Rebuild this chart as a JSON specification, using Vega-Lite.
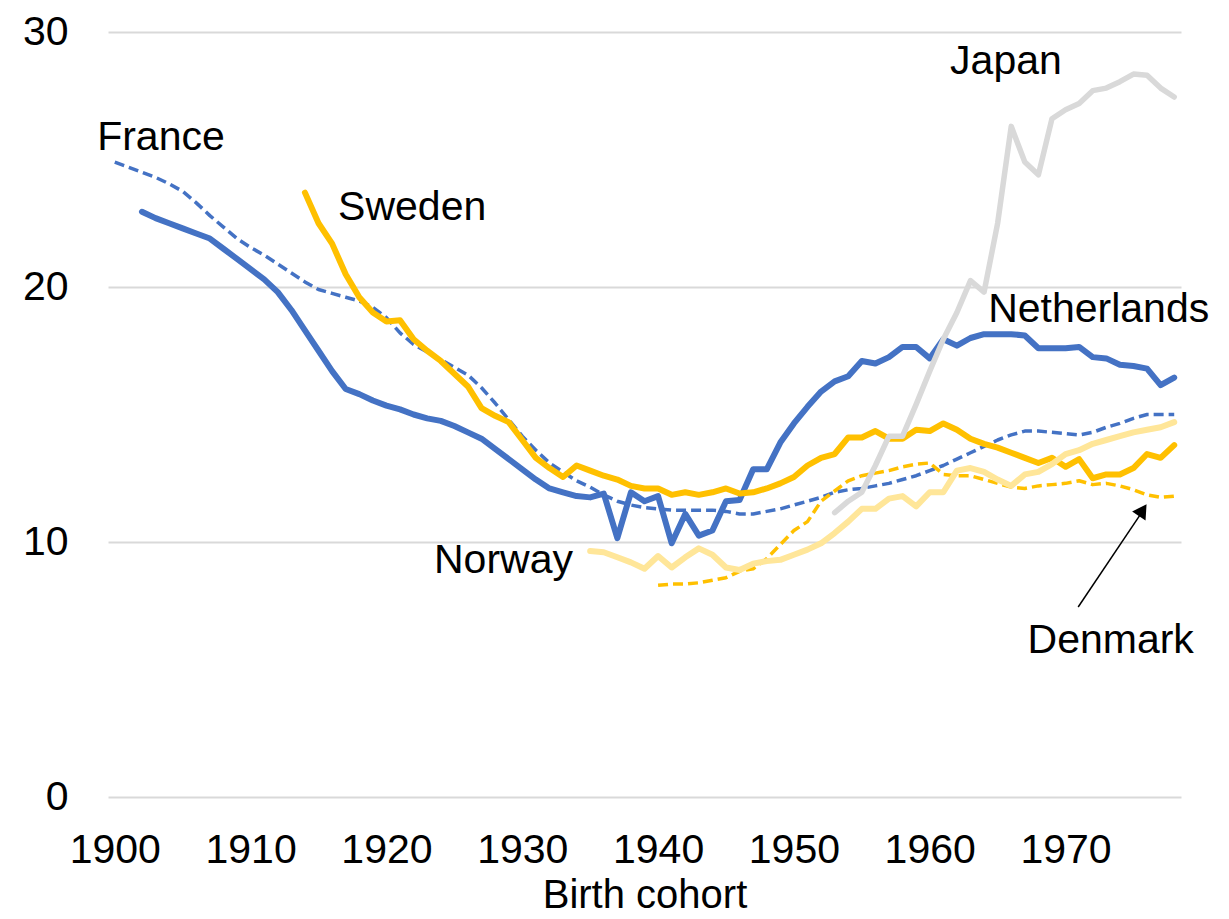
{
  "$schema": "https://vega.github.io/schema/vega-lite/v6.json",
  "width": 1073,
  "height": 765,
  "autosize": {"type": "none"},
  "padding": {"left": 108, "top": 32, "right": 48, "bottom": 122},
  "background": "white",
  "config": {"view": {"stroke": null}, "font": "Liberation Sans"},
  "datasets": {
    "series": [
      {"c":"Netherlands","year":1902,"value":22.95},{"c":"Netherlands","year":1903,"value":22.7},{"c":"Netherlands","year":1904,"value":22.5},{"c":"Netherlands","year":1905,"value":22.3},{"c":"Netherlands","year":1906,"value":22.1},{"c":"Netherlands","year":1907,"value":21.9},{"c":"Netherlands","year":1908,"value":21.5},{"c":"Netherlands","year":1909,"value":21.1},{"c":"Netherlands","year":1910,"value":20.7},{"c":"Netherlands","year":1911,"value":20.3},{"c":"Netherlands","year":1912,"value":19.8},{"c":"Netherlands","year":1913,"value":19.1},{"c":"Netherlands","year":1914,"value":18.3},{"c":"Netherlands","year":1915,"value":17.5},{"c":"Netherlands","year":1916,"value":16.7},{"c":"Netherlands","year":1917,"value":16.0},{"c":"Netherlands","year":1918,"value":15.8},{"c":"Netherlands","year":1919,"value":15.55},{"c":"Netherlands","year":1920,"value":15.35},{"c":"Netherlands","year":1921,"value":15.2},{"c":"Netherlands","year":1922,"value":15.0},{"c":"Netherlands","year":1923,"value":14.85},{"c":"Netherlands","year":1924,"value":14.75},{"c":"Netherlands","year":1925,"value":14.55},{"c":"Netherlands","year":1926,"value":14.3},{"c":"Netherlands","year":1927,"value":14.05},{"c":"Netherlands","year":1928,"value":13.65},{"c":"Netherlands","year":1929,"value":13.25},{"c":"Netherlands","year":1930,"value":12.85},{"c":"Netherlands","year":1931,"value":12.45},{"c":"Netherlands","year":1932,"value":12.1},{"c":"Netherlands","year":1933,"value":11.95},{"c":"Netherlands","year":1934,"value":11.8},{"c":"Netherlands","year":1935,"value":11.75},{"c":"Netherlands","year":1936,"value":11.9},{"c":"Netherlands","year":1937,"value":10.15},{"c":"Netherlands","year":1938,"value":11.95},{"c":"Netherlands","year":1939,"value":11.6},{"c":"Netherlands","year":1940,"value":11.8},{"c":"Netherlands","year":1941,"value":9.95},{"c":"Netherlands","year":1942,"value":11.1},{"c":"Netherlands","year":1943,"value":10.25},{"c":"Netherlands","year":1944,"value":10.45},{"c":"Netherlands","year":1945,"value":11.6},{"c":"Netherlands","year":1946,"value":11.65},{"c":"Netherlands","year":1947,"value":12.85},{"c":"Netherlands","year":1948,"value":12.85},{"c":"Netherlands","year":1949,"value":13.9},{"c":"Netherlands","year":1950,"value":14.65},{"c":"Netherlands","year":1951,"value":15.3},{"c":"Netherlands","year":1952,"value":15.9},{"c":"Netherlands","year":1953,"value":16.3},{"c":"Netherlands","year":1954,"value":16.5},{"c":"Netherlands","year":1955,"value":17.1},{"c":"Netherlands","year":1956,"value":17.0},{"c":"Netherlands","year":1957,"value":17.25},{"c":"Netherlands","year":1958,"value":17.65},{"c":"Netherlands","year":1959,"value":17.65},{"c":"Netherlands","year":1960,"value":17.2},{"c":"Netherlands","year":1961,"value":17.95},{"c":"Netherlands","year":1962,"value":17.7},{"c":"Netherlands","year":1963,"value":18.0},{"c":"Netherlands","year":1964,"value":18.15},{"c":"Netherlands","year":1965,"value":18.15},{"c":"Netherlands","year":1966,"value":18.15},{"c":"Netherlands","year":1967,"value":18.1},{"c":"Netherlands","year":1968,"value":17.6},{"c":"Netherlands","year":1969,"value":17.6},{"c":"Netherlands","year":1970,"value":17.6},{"c":"Netherlands","year":1971,"value":17.65},{"c":"Netherlands","year":1972,"value":17.25},{"c":"Netherlands","year":1973,"value":17.2},{"c":"Netherlands","year":1974,"value":16.95},{"c":"Netherlands","year":1975,"value":16.9},{"c":"Netherlands","year":1976,"value":16.8},{"c":"Netherlands","year":1977,"value":16.15},{"c":"Netherlands","year":1978,"value":16.45},
      {"c":"France","year":1900,"value":24.9},{"c":"France","year":1901,"value":24.7},{"c":"France","year":1902,"value":24.5},{"c":"France","year":1903,"value":24.3},{"c":"France","year":1904,"value":24.05},{"c":"France","year":1905,"value":23.75},{"c":"France","year":1906,"value":23.3},{"c":"France","year":1907,"value":22.8},{"c":"France","year":1908,"value":22.35},{"c":"France","year":1909,"value":21.9},{"c":"France","year":1910,"value":21.55},{"c":"France","year":1911,"value":21.25},{"c":"France","year":1912,"value":20.9},{"c":"France","year":1913,"value":20.55},{"c":"France","year":1914,"value":20.2},{"c":"France","year":1915,"value":19.9},{"c":"France","year":1916,"value":19.75},{"c":"France","year":1917,"value":19.6},{"c":"France","year":1918,"value":19.45},{"c":"France","year":1919,"value":19.2},{"c":"France","year":1920,"value":18.8},{"c":"France","year":1921,"value":18.2},{"c":"France","year":1922,"value":17.75},{"c":"France","year":1923,"value":17.45},{"c":"France","year":1924,"value":17.15},{"c":"France","year":1925,"value":16.85},{"c":"France","year":1926,"value":16.55},{"c":"France","year":1927,"value":16.05},{"c":"France","year":1928,"value":15.45},{"c":"France","year":1929,"value":14.8},{"c":"France","year":1930,"value":14.15},{"c":"France","year":1931,"value":13.6},{"c":"France","year":1932,"value":13.1},{"c":"France","year":1933,"value":12.75},{"c":"France","year":1934,"value":12.4},{"c":"France","year":1935,"value":12.15},{"c":"France","year":1936,"value":11.85},{"c":"France","year":1937,"value":11.6},{"c":"France","year":1938,"value":11.45},{"c":"France","year":1939,"value":11.35},{"c":"France","year":1940,"value":11.3},{"c":"France","year":1941,"value":11.25},{"c":"France","year":1942,"value":11.25},{"c":"France","year":1943,"value":11.25},{"c":"France","year":1944,"value":11.25},{"c":"France","year":1945,"value":11.2},{"c":"France","year":1946,"value":11.1},{"c":"France","year":1947,"value":11.1},{"c":"France","year":1948,"value":11.2},{"c":"France","year":1949,"value":11.3},{"c":"France","year":1950,"value":11.45},{"c":"France","year":1951,"value":11.6},{"c":"France","year":1952,"value":11.75},{"c":"France","year":1953,"value":11.95},{"c":"France","year":1954,"value":12.05},{"c":"France","year":1955,"value":12.1},{"c":"France","year":1956,"value":12.2},{"c":"France","year":1957,"value":12.3},{"c":"France","year":1958,"value":12.45},{"c":"France","year":1959,"value":12.6},{"c":"France","year":1960,"value":12.8},{"c":"France","year":1961,"value":13.0},{"c":"France","year":1962,"value":13.25},{"c":"France","year":1963,"value":13.5},{"c":"France","year":1964,"value":13.75},{"c":"France","year":1965,"value":14.0},{"c":"France","year":1966,"value":14.2},{"c":"France","year":1967,"value":14.35},{"c":"France","year":1968,"value":14.35},{"c":"France","year":1969,"value":14.3},{"c":"France","year":1970,"value":14.25},{"c":"France","year":1971,"value":14.2},{"c":"France","year":1972,"value":14.3},{"c":"France","year":1973,"value":14.5},{"c":"France","year":1974,"value":14.65},{"c":"France","year":1975,"value":14.85},{"c":"France","year":1976,"value":15.0},{"c":"France","year":1977,"value":15.0},{"c":"France","year":1978,"value":15.0},
      {"c":"Sweden","year":1914,"value":23.7},{"c":"Sweden","year":1915,"value":22.5},{"c":"Sweden","year":1916,"value":21.7},{"c":"Sweden","year":1917,"value":20.5},{"c":"Sweden","year":1918,"value":19.6},{"c":"Sweden","year":1919,"value":19.0},{"c":"Sweden","year":1920,"value":18.65},{"c":"Sweden","year":1921,"value":18.7},{"c":"Sweden","year":1922,"value":17.95},{"c":"Sweden","year":1923,"value":17.5},{"c":"Sweden","year":1924,"value":17.1},{"c":"Sweden","year":1925,"value":16.6},{"c":"Sweden","year":1926,"value":16.1},{"c":"Sweden","year":1927,"value":15.25},{"c":"Sweden","year":1928,"value":14.95},{"c":"Sweden","year":1929,"value":14.7},{"c":"Sweden","year":1930,"value":14.0},{"c":"Sweden","year":1931,"value":13.3},{"c":"Sweden","year":1932,"value":12.9},{"c":"Sweden","year":1933,"value":12.55},{"c":"Sweden","year":1934,"value":13.0},{"c":"Sweden","year":1935,"value":12.8},{"c":"Sweden","year":1936,"value":12.6},{"c":"Sweden","year":1937,"value":12.45},{"c":"Sweden","year":1938,"value":12.2},{"c":"Sweden","year":1939,"value":12.1},{"c":"Sweden","year":1940,"value":12.1},{"c":"Sweden","year":1941,"value":11.85},{"c":"Sweden","year":1942,"value":11.95},{"c":"Sweden","year":1943,"value":11.85},{"c":"Sweden","year":1944,"value":11.95},{"c":"Sweden","year":1945,"value":12.1},{"c":"Sweden","year":1946,"value":11.9},{"c":"Sweden","year":1947,"value":11.95},{"c":"Sweden","year":1948,"value":12.1},{"c":"Sweden","year":1949,"value":12.3},{"c":"Sweden","year":1950,"value":12.55},{"c":"Sweden","year":1951,"value":13.0},{"c":"Sweden","year":1952,"value":13.3},{"c":"Sweden","year":1953,"value":13.45},{"c":"Sweden","year":1954,"value":14.1},{"c":"Sweden","year":1955,"value":14.1},{"c":"Sweden","year":1956,"value":14.35},{"c":"Sweden","year":1957,"value":14.05},{"c":"Sweden","year":1958,"value":14.05},{"c":"Sweden","year":1959,"value":14.4},{"c":"Sweden","year":1960,"value":14.35},{"c":"Sweden","year":1961,"value":14.65},{"c":"Sweden","year":1962,"value":14.4},{"c":"Sweden","year":1963,"value":14.05},{"c":"Sweden","year":1964,"value":13.85},{"c":"Sweden","year":1965,"value":13.7},{"c":"Sweden","year":1966,"value":13.5},{"c":"Sweden","year":1967,"value":13.3},{"c":"Sweden","year":1968,"value":13.1},{"c":"Sweden","year":1969,"value":13.3},{"c":"Sweden","year":1970,"value":12.95},{"c":"Sweden","year":1971,"value":13.25},{"c":"Sweden","year":1972,"value":12.5},{"c":"Sweden","year":1973,"value":12.65},{"c":"Sweden","year":1974,"value":12.65},{"c":"Sweden","year":1975,"value":12.9},{"c":"Sweden","year":1976,"value":13.45},{"c":"Sweden","year":1977,"value":13.3},{"c":"Sweden","year":1978,"value":13.8},
      {"c":"Denmark","year":1940,"value":8.3},{"c":"Denmark","year":1941,"value":8.35},{"c":"Denmark","year":1942,"value":8.35},{"c":"Denmark","year":1943,"value":8.4},{"c":"Denmark","year":1944,"value":8.5},{"c":"Denmark","year":1945,"value":8.6},{"c":"Denmark","year":1946,"value":8.85},{"c":"Denmark","year":1947,"value":8.95},{"c":"Denmark","year":1948,"value":9.35},{"c":"Denmark","year":1949,"value":9.9},{"c":"Denmark","year":1950,"value":10.45},{"c":"Denmark","year":1951,"value":10.8},{"c":"Denmark","year":1952,"value":11.6},{"c":"Denmark","year":1953,"value":12.0},{"c":"Denmark","year":1954,"value":12.4},{"c":"Denmark","year":1955,"value":12.6},{"c":"Denmark","year":1956,"value":12.7},{"c":"Denmark","year":1957,"value":12.8},{"c":"Denmark","year":1958,"value":12.95},{"c":"Denmark","year":1959,"value":13.05},{"c":"Denmark","year":1960,"value":13.1},{"c":"Denmark","year":1961,"value":12.65},{"c":"Denmark","year":1962,"value":12.6},{"c":"Denmark","year":1963,"value":12.6},{"c":"Denmark","year":1964,"value":12.45},{"c":"Denmark","year":1965,"value":12.3},{"c":"Denmark","year":1966,"value":12.15},{"c":"Denmark","year":1967,"value":12.1},{"c":"Denmark","year":1968,"value":12.2},{"c":"Denmark","year":1969,"value":12.25},{"c":"Denmark","year":1970,"value":12.3},{"c":"Denmark","year":1971,"value":12.4},{"c":"Denmark","year":1972,"value":12.25},{"c":"Denmark","year":1973,"value":12.3},{"c":"Denmark","year":1974,"value":12.2},{"c":"Denmark","year":1975,"value":12.05},{"c":"Denmark","year":1976,"value":11.85},{"c":"Denmark","year":1977,"value":11.75},{"c":"Denmark","year":1978,"value":11.8},
      {"c":"Norway","year":1935,"value":9.65},{"c":"Norway","year":1936,"value":9.6},{"c":"Norway","year":1937,"value":9.4},{"c":"Norway","year":1938,"value":9.2},{"c":"Norway","year":1939,"value":8.95},{"c":"Norway","year":1940,"value":9.45},{"c":"Norway","year":1941,"value":9.0},{"c":"Norway","year":1942,"value":9.4},{"c":"Norway","year":1943,"value":9.75},{"c":"Norway","year":1944,"value":9.5},{"c":"Norway","year":1945,"value":9.0},{"c":"Norway","year":1946,"value":8.9},{"c":"Norway","year":1947,"value":9.15},{"c":"Norway","year":1948,"value":9.25},{"c":"Norway","year":1949,"value":9.3},{"c":"Norway","year":1950,"value":9.5},{"c":"Norway","year":1951,"value":9.7},{"c":"Norway","year":1952,"value":9.95},{"c":"Norway","year":1953,"value":10.35},{"c":"Norway","year":1954,"value":10.8},{"c":"Norway","year":1955,"value":11.3},{"c":"Norway","year":1956,"value":11.3},{"c":"Norway","year":1957,"value":11.7},{"c":"Norway","year":1958,"value":11.8},{"c":"Norway","year":1959,"value":11.4},{"c":"Norway","year":1960,"value":11.95},{"c":"Norway","year":1961,"value":11.95},{"c":"Norway","year":1962,"value":12.8},{"c":"Norway","year":1963,"value":12.9},{"c":"Norway","year":1964,"value":12.75},{"c":"Norway","year":1965,"value":12.45},{"c":"Norway","year":1966,"value":12.2},{"c":"Norway","year":1967,"value":12.65},{"c":"Norway","year":1968,"value":12.75},{"c":"Norway","year":1969,"value":13.05},{"c":"Norway","year":1970,"value":13.45},{"c":"Norway","year":1971,"value":13.6},{"c":"Norway","year":1972,"value":13.85},{"c":"Norway","year":1973,"value":14.0},{"c":"Norway","year":1974,"value":14.15},{"c":"Norway","year":1975,"value":14.3},{"c":"Norway","year":1976,"value":14.4},{"c":"Norway","year":1977,"value":14.5},{"c":"Norway","year":1978,"value":14.7},
      {"c":"Japan","year":1953,"value":11.15},{"c":"Japan","year":1954,"value":11.6},{"c":"Japan","year":1955,"value":11.95},{"c":"Japan","year":1956,"value":13.0},{"c":"Japan","year":1957,"value":14.15},{"c":"Japan","year":1958,"value":14.15},{"c":"Japan","year":1959,"value":15.4},{"c":"Japan","year":1960,"value":16.7},{"c":"Japan","year":1961,"value":17.95},{"c":"Japan","year":1962,"value":19.0},{"c":"Japan","year":1963,"value":20.25},{"c":"Japan","year":1964,"value":19.8},{"c":"Japan","year":1965,"value":22.5},{"c":"Japan","year":1966,"value":26.3},{"c":"Japan","year":1967,"value":24.9},{"c":"Japan","year":1968,"value":24.4},{"c":"Japan","year":1969,"value":26.6},{"c":"Japan","year":1970,"value":26.95},{"c":"Japan","year":1971,"value":27.2},{"c":"Japan","year":1972,"value":27.7},{"c":"Japan","year":1973,"value":27.8},{"c":"Japan","year":1974,"value":28.05},{"c":"Japan","year":1975,"value":28.35},{"c":"Japan","year":1976,"value":28.3},{"c":"Japan","year":1977,"value":27.8},{"c":"Japan","year":1978,"value":27.45}
    ],
    "labels": [
      {"label":"France","year":1898.7,"value":25.37},
      {"label":"Sweden","year":1916.44,"value":22.63},
      {"label":"Japan","year":1961.5,"value":28.35},
      {"label":"Netherlands","year":1964.3,"value":18.63},
      {"label":"Norway","year":1923.5,"value":8.78},
      {"label":"Denmark","year":1967.2,"value":5.65}
    ],
    "arrow": [
      {"year":1970.93,"value":7.45,"year2":1975.6,"value2":11.15}
    ],
    "arrowhead": [
      {"year":1975.68,"value":11.25}
    ]
  },
  "encoding": {
    "x": {
      "field": "year", "type": "quantitative",
      "scale": {"domain": [1899.5, 1978.5], "nice": false, "zero": false},
      "axis": {
        "values": [1900, 1910, 1920, 1930, 1940, 1950, 1960, 1970],
        "format": "d", "grid": false, "domain": false, "ticks": false, "tickSize": 0,
        "labelFont": "Liberation Sans", "labelFontSize": 41, "labelColor": "#000000",
        "labelBaseline": "alphabetic", "labelPadding": 65, "labelFlush": false, "labelOverlap": false,
        "title": "Birth cohort", "titleFont": "Liberation Sans", "titleFontSize": 40,
        "titleFontWeight": "normal", "titleColor": "#000000", "titleBaseline": "alphabetic", "titleY": 110
      }
    },
    "y": {
      "field": "value", "type": "quantitative",
      "scale": {"domain": [0, 30], "nice": false},
      "axis": {
        "values": [0, 10, 20, 30], "grid": true, "gridColor": "#D9D9D9", "gridWidth": 2,
        "domain": false, "ticks": false, "tickSize": 0,
        "labelFont": "Liberation Sans", "labelFontSize": 41, "labelColor": "#000000", "labelPadding": 40,
        "title": null
      }
    }
  },
  "layer": [
    {"data": {"name": "series"}, "transform": [{"filter": "datum.c === 'Netherlands'"}],
     "mark": {"type": "line", "color": "#4472C4", "strokeWidth": 6, "strokeCap": "round", "strokeJoin": "round"}},
    {"data": {"name": "series"}, "transform": [{"filter": "datum.c === 'France'"}],
     "mark": {"type": "line", "color": "#4472C4", "strokeWidth": 3.5, "strokeDash": [10, 5], "strokeJoin": "round"}},
    {"data": {"name": "series"}, "transform": [{"filter": "datum.c === 'Sweden'"}],
     "mark": {"type": "line", "color": "#FFC000", "strokeWidth": 6, "strokeCap": "round", "strokeJoin": "round"}},
    {"data": {"name": "series"}, "transform": [{"filter": "datum.c === 'Denmark'"}],
     "mark": {"type": "line", "color": "#FFC000", "strokeWidth": 3.5, "strokeDash": [10, 5], "strokeJoin": "round"}},
    {"data": {"name": "series"}, "transform": [{"filter": "datum.c === 'Norway'"}],
     "mark": {"type": "line", "color": "#FFE699", "strokeWidth": 6, "strokeCap": "round", "strokeJoin": "round"}},
    {"data": {"name": "series"}, "transform": [{"filter": "datum.c === 'Japan'"}],
     "mark": {"type": "line", "color": "#D9D9D9", "strokeWidth": 5.5, "strokeCap": "round", "strokeJoin": "round"}},
    {"data": {"name": "arrow"},
     "mark": {"type": "rule", "color": "#000000", "strokeWidth": 1.5},
     "encoding": {"x2": {"field": "year2"}, "y2": {"field": "value2"}}},
    {"data": {"name": "arrowhead"},
     "mark": {"type": "point", "shape": "triangle-up", "filled": true, "color": "#000000", "size": 260, "angle": 33.7, "opacity": 1, "strokeWidth": 0}},
    {"data": {"name": "labels"},
     "mark": {"type": "text", "align": "left", "baseline": "alphabetic", "font": "Liberation Sans", "fontSize": 41, "color": "#000000"},
     "encoding": {"text": {"field": "label"}}}
  ]
}
